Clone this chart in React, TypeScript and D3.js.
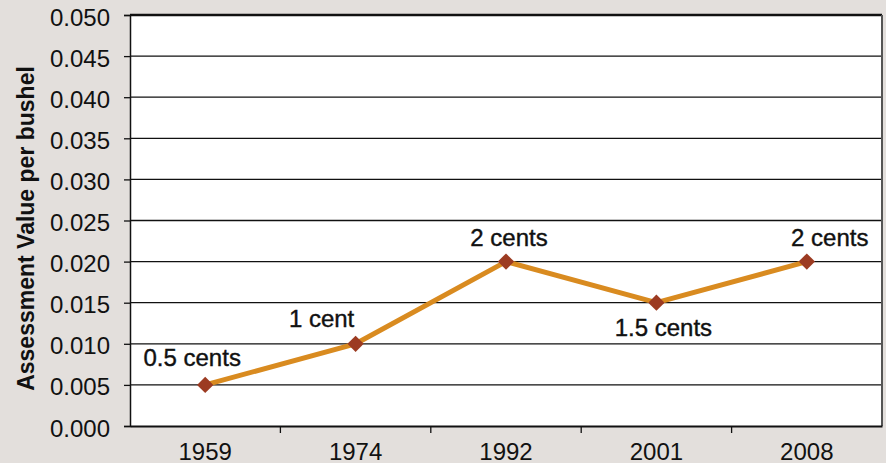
import React, { useRef, useEffect } from 'react';
import * as d3 from 'd3';

const years = ['1959', '1974', '1992', '2001', '2008'];
const values = [0.005, 0.01, 0.02, 0.015, 0.02];
const pointLabels = ['0.5 cents', '1 cent', '2 cents', '1.5 cents', '2 cents'];
const yTicks = [0, 0.005, 0.01, 0.015, 0.02, 0.025, 0.03, 0.035, 0.04, 0.045, 0.05];
const yLabel = 'Assessment Value per bushel';

interface Point {
  year: string;
  value: number;
  label: string;
}

const data: Point[] = years.map((year, i) => ({ year, value: values[i], label: pointLabels[i] }));

// label offsets relative to the marker (dx, dy to baseline)
const labelOffsets: [number, number][] = [
  [-13, -19],
  [-34, -17],
  [3, -16],
  [7, 33],
  [23, -16],
];

const App: React.FC = () => {
  const svgRef = useRef<SVGSVGElement>(null);

  useEffect(() => {
    const svgEl = svgRef.current;
    if (!svgEl) return;
    svgEl.innerHTML = '';

    const width = 886;
    const height = 463;
    const margin = { top: 15, right: 4, bottom: 37, left: 130 };
    const font = '"Liberation Sans", Arial, Helvetica, sans-serif';

    const svg = d3.select(svgEl);

    svg.append('rect').attr('width', width).attr('height', height).attr('fill', '#e3dfdc');

    const x = d3
      .scaleBand<string>()
      .domain(years)
      .range([margin.left, width - margin.right]);

    const y = d3
      .scaleLinear()
      .domain([0, 0.05])
      .range([height - margin.bottom, margin.top]);

    /* ---------- plot area ---------- */
    svg
      .append('rect')
      .attr('x', margin.left)
      .attr('y', margin.top)
      .attr('width', width - margin.right - margin.left)
      .attr('height', y(0) - margin.top)
      .attr('fill', '#ffffff');

    // gridlines
    svg
      .selectAll('line.grid')
      .data(yTicks.filter(t => t > 0))
      .enter()
      .append('line')
      .attr('class', 'grid')
      .attr('x1', margin.left)
      .attr('x2', width - margin.right)
      .attr('y1', d => y(d))
      .attr('y2', d => y(d))
      .attr('stroke', '#111')
      .attr('stroke-width', (d: number) => (d === 0.05 ? 2.5 : 1.3));

    // right border
    svg
      .append('line')
      .attr('x1', width - margin.right)
      .attr('x2', width - margin.right)
      .attr('y1', margin.top)
      .attr('y2', y(0))
      .attr('stroke', '#555')
      .attr('stroke-width', 2);

    /* ---------- Y axis ---------- */
    const yAxis = d3
      .axisLeft(y)
      .tickValues(yTicks)
      .tickSize(6)
      .tickPadding(14)
      .tickFormat(d => d3.format('.3f')(d as number));

    const yG = svg
      .append('g')
      .attr('transform', `translate(${margin.left},0)`)
      .call(yAxis);
    yG.select('.domain').attr('stroke', '#111').attr('stroke-width', 1.5);
    yG.selectAll('.tick line').attr('stroke', '#111').attr('stroke-width', 1.3);
    yG.selectAll('text')
      .attr('fill', '#111')
      .attr('dy', '0.42em')
      .style('font-family', font)
      .style('font-size', '24px');

    /* ---------- X axis ---------- */
    const xAxis = d3.axisBottom(x).tickSize(0).tickPadding(17);
    const xG = svg
      .append('g')
      .attr('transform', `translate(0,${y(0)})`)
      .call(xAxis);
    xG.select('.domain').attr('stroke', '#111').attr('stroke-width', 2.2);
    xG.selectAll('text')
      .attr('fill', '#111')
      .style('font-family', font)
      .style('font-size', '24px');

    // tick marks between categories
    svg
      .selectAll('line.xtick')
      .data(years.slice(1))
      .enter()
      .append('line')
      .attr('class', 'xtick')
      .attr('x1', d => x(d)!)
      .attr('x2', d => x(d)!)
      .attr('y1', y(0))
      .attr('y2', y(0) + 7)
      .attr('stroke', '#111')
      .attr('stroke-width', 1.3);

    /* ---------- axis title ---------- */
    svg
      .append('text')
      .attr('transform', `translate(34,${(margin.top + y(0)) / 2 + 8}) rotate(-90)`)
      .attr('text-anchor', 'middle')
      .attr('fill', '#111')
      .style('font-family', font)
      .style('font-size', '23px')
      .style('font-weight', 'bold')
      .text(yLabel);

    /* ---------- line + markers ---------- */
    const cx = (d: Point) => x(d.year)! + x.bandwidth() / 2;

    const line = d3
      .line<Point>()
      .x(cx)
      .y(d => y(d.value));

    svg
      .append('path')
      .datum(data)
      .attr('d', line)
      .attr('fill', 'none')
      .attr('stroke', '#d98b20')
      .attr('stroke-width', 5)
      .attr('stroke-linejoin', 'round');

    const diamond = d3.symbol().type(d3.symbolDiamond2).size(170);
    svg
      .selectAll('path.marker')
      .data(data)
      .enter()
      .append('path')
      .attr('class', 'marker')
      .attr('d', diamond)
      .attr('transform', d => `translate(${cx(d)},${y(d.value)})`)
      .attr('fill', '#9c3b22');

    svg
      .selectAll('text.point-label')
      .data(data)
      .enter()
      .append('text')
      .attr('class', 'point-label')
      .attr('text-anchor', 'middle')
      .attr('x', (d, i) => cx(d) + labelOffsets[i][0])
      .attr('y', (d, i) => y(d.value) + labelOffsets[i][1])
      .attr('fill', '#111')
      .attr('stroke', '#111')
      .attr('stroke-width', 0.4)
      .style('font-family', font)
      .style('font-size', '24px')
      .text(d => d.label);
  }, []);

  return (
    <svg
      ref={svgRef}
      width={886}
      height={463}
      style={{ position: 'absolute', left: 0, top: 0, display: 'block' }}
    />
  );
};

export default App;
